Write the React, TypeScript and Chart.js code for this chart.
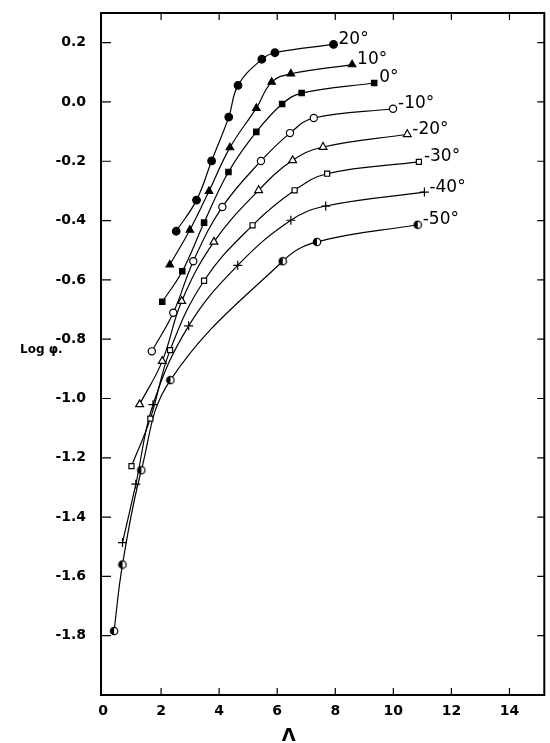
import React, { useEffect, useRef } from "react";
import { Chart, registerables } from "chart.js";

Chart.register(...registerables);

const seriesNames = ["20°", "10°", "0°", "-10°", "-20°", "-30°", "-40°", "-50°"];

const lambda20 = [2.52, 3.22, 3.74, 4.33, 4.65, 5.47, 5.92, 7.94];
const logPhi20 = [-0.436, -0.331, -0.199, -0.051, 0.056, 0.144, 0.166, 0.194];
const lambda10 = [2.3, 2.99, 3.65, 4.37, 5.28, 5.81, 6.47, 8.58];
const logPhi10 = [-0.549, -0.432, -0.301, -0.154, -0.021, 0.067, 0.095, 0.126];
const lambda0 = [2.04, 2.73, 3.48, 4.32, 5.28, 6.17, 6.84, 9.34];
const logPhi0 = [-0.674, -0.571, -0.407, -0.236, -0.101, -0.007, 0.03, 0.064];
const lambdaM10 = [1.68, 2.42, 3.11, 4.11, 5.44, 6.44, 7.26, 9.99];
const logPhiM10 = [-0.841, -0.711, -0.537, -0.354, -0.199, -0.105, -0.054, -0.023];
const lambdaM20 = [1.26, 2.04, 2.71, 3.82, 5.36, 6.53, 7.58, 10.48];
const logPhiM20 = [-1.02, -0.874, -0.672, -0.472, -0.298, -0.197, -0.152, -0.109];
const lambdaM30 = [0.98, 1.63, 2.31, 3.48, 5.15, 6.6, 7.72, 10.88];
const logPhiM30 = [-1.228, -1.068, -0.837, -0.603, -0.416, -0.298, -0.242, -0.202];
const lambdaM40 = [0.67, 1.13, 1.72, 2.95, 4.64, 6.47, 7.67, 11.07];
const logPhiM40 = [-1.486, -1.289, -1.021, -0.755, -0.551, -0.399, -0.351, -0.304];
const lambdaM50 = [0.38, 0.67, 1.32, 2.32, 6.19, 7.37, 10.84];
const logPhiM50 = [-1.784, -1.56, -1.242, -0.938, -0.537, -0.472, -0.414];

const lambdaSeries = [lambda20, lambda10, lambda0, lambdaM10, lambdaM20, lambdaM30, lambdaM40, lambdaM50];
const logPhiSeries = [logPhi20, logPhi10, logPhi0, logPhiM10, logPhiM20, logPhiM30, logPhiM40, logPhiM50];

const xTickValues = [0, 2, 4, 6, 8, 10, 12, 14];
const yTickValues = [-1.8, -1.6, -1.4, -1.2, -1.0, -0.8, -0.6, -0.4, -0.2, 0.0, 0.2];

const xTitle = "Λ";
const yTitle = "Log φ.";

function makeHalfCircle(): HTMLCanvasElement {
  const c = document.createElement("canvas");
  c.width = 10;
  c.height = 10;
  const g = c.getContext("2d")!;
  const r = 3.7;
  g.fillStyle = "#fff";
  g.beginPath();
  g.arc(5, 5, r, 0, Math.PI * 2);
  g.fill();
  g.fillStyle = "#000";
  g.beginPath();
  g.arc(5, 5, r, Math.PI / 2, (Math.PI * 3) / 2);
  g.closePath();
  g.fill();
  g.strokeStyle = "#000";
  g.lineWidth = 1.2;
  g.beginPath();
  g.arc(5, 5, r, 0, Math.PI * 2);
  g.stroke();
  return c;
}

const framePlugin = {
  id: "framePlugin",
  afterDatasetsDraw(chart: any) {
    const { ctx, chartArea, scales } = chart;
    const { left, right, top, bottom } = chartArea;
    const xs = scales.x;
    const ys = scales.y;
    ctx.save();
    ctx.strokeStyle = "#000";
    ctx.lineWidth = 2;
    ctx.strokeRect(left, top, right - left, bottom - top);
    ctx.lineWidth = 1.2;
    const tl = 7;
    ctx.beginPath();
    xTickValues.forEach((v) => {
      if (v === 0) return;
      const px = xs.getPixelForValue(v);
      ctx.moveTo(px, bottom);
      ctx.lineTo(px, bottom - tl);
      ctx.moveTo(px, top);
      ctx.lineTo(px, top + tl);
    });
    yTickValues.forEach((v) => {
      const py = ys.getPixelForValue(v);
      ctx.moveTo(left, py);
      ctx.lineTo(left + tl + 3, py);
      ctx.moveTo(right, py);
      ctx.lineTo(right - tl, py);
    });
    ctx.stroke();

    // series labels at end of each curve
    ctx.fillStyle = "#000";
    ctx.font = "17px 'DejaVu Sans'";
    ctx.textAlign = "left";
    ctx.textBaseline = "middle";
    chart.data.datasets.forEach((ds: any, i: number) => {
      const meta = chart.getDatasetMeta(i);
      const last = meta.data[meta.data.length - 1];
      if (!last) return;
      ctx.fillText(seriesNames[i], last.x + 5, last.y - 5);
    });

    // axis titles
    ctx.font = "bold 12px 'DejaVu Sans'";
    ctx.textAlign = "left";
    ctx.fillText(yTitle, 20, ys.getPixelForValue(-0.835));
    ctx.font = "bold 18px 'DejaVu Sans'";
    ctx.textAlign = "center";
    ctx.textBaseline = "top";
    ctx.fillText(xTitle, xs.getPixelForValue(6.4), bottom + 32);
    ctx.restore();
  },
};

export default function App() {
  const ref = useRef<HTMLCanvasElement>(null);

  useEffect(() => {
    if (!ref.current) return;
    const half = makeHalfCircle();
    const styles: any[] = [
      { pointStyle: "circle", bg: "#000", r: 3.8 },
      { pointStyle: "triangle", bg: "#000", r: 4.3 },
      { pointStyle: "rect", bg: "#000", r: 3.8 },
      { pointStyle: "circle", bg: "#fff", r: 3.6 },
      { pointStyle: "triangle", bg: "#fff", r: 4.5 },
      { pointStyle: "rect", bg: "#fff", r: 3.6 },
      { pointStyle: "cross", bg: "#000", r: 4.5 },
      { pointStyle: half, bg: "#000", r: 4 },
    ];
    const datasets = seriesNames.map((name, i) => ({
      label: name,
      data: lambdaSeries[i].map((x, j) => ({ x, y: logPhiSeries[i][j] })),
      borderColor: "#000",
      borderWidth: 1.2,
      backgroundColor: styles[i].bg,
      pointStyle: styles[i].pointStyle,
      pointRadius: styles[i].r,
      pointBorderWidth: 1.2,
      pointBorderColor: "#000",
      pointBackgroundColor: styles[i].bg,
      showLine: true,
      tension: 0.4,
      fill: false,
    }));

    const chart = new Chart(ref.current, {
      type: "scatter",
      data: { datasets } as any,
      options: {
        animation: false,
        responsive: true,
        maintainAspectRatio: false,
        layout: { padding: { top: 13, right: 2, left: 0, bottom: 0 } },
        plugins: { legend: { display: false }, tooltip: { enabled: false } },
        scales: {
          x: {
            type: "linear",
            min: -0.07,
            max: 15.2,
            afterBuildTicks: (s: any) => {
              s.ticks = xTickValues.map((v) => ({ value: v }));
            },
            afterFit: (s: any) => {
              s.height = 48;
            },
            border: { display: false },
            grid: { display: true, drawOnChartArea: false, drawTicks: true, tickLength: 8, color: "rgba(0,0,0,0)" },
            ticks: {
              padding: 0,
              color: "#000",
              font: { family: "'DejaVu Sans'", size: 14, weight: "bold" },
              maxRotation: 0,
              callback: (v: any) => String(Math.round(Number(v))),
            },
          },
          y: {
            type: "linear",
            min: -2.0,
            max: 0.3,
            afterBuildTicks: (s: any) => {
              s.ticks = yTickValues.map((v) => ({ value: v }));
            },
            afterFit: (s: any) => {
              s.width = 101;
            },
            border: { display: false },
            grid: { display: true, drawOnChartArea: false, drawTicks: true, tickLength: 15, color: "rgba(0,0,0,0)" },
            ticks: {
              padding: 0,
              color: "#000",
              font: { family: "'DejaVu Sans'", size: 14, weight: "bold" },
              callback: (v: any) => {
                const n = Number(v);
                return (Math.abs(n) < 1e-9 ? 0 : n).toFixed(1);
              },
            },
          },
        },
      },
      plugins: [framePlugin],
    });
    return () => chart.destroy();
  }, []);

  return (
    <div style={{ position: "absolute", left: 0, top: 0, width: 550, height: 743, background: "#fff" }}>
      <canvas ref={ref} />
    </div>
  );
}
